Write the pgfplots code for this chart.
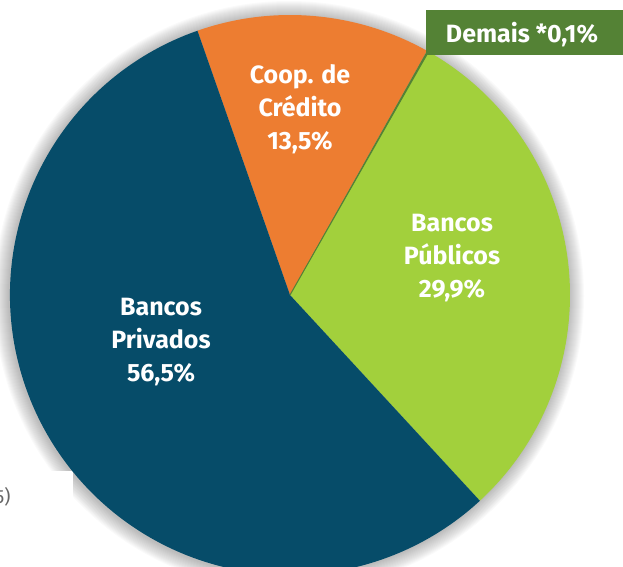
\documentclass[border=0pt]{standalone}
\usepackage{pgfplots}
\pgfplotsset{compat=1.18}
\usepackage{pgfplotstable}
\usepackage{fontspec}
\setmainfont{Fira Sans}
\definecolor{colB}{HTML}{064C69}
\definecolor{colO}{HTML}{ED7D31}
\definecolor{colG}{HTML}{A2D03C}
\definecolor{colD}{HTML}{548235}
\pgfplotstableread{
seg value
publicos 29.9
demais 0.1
coop 13.5
privados 56.5
}\piedata
\pgfplotstablegetelem{0}{value}\of\piedata \let\vG\pgfplotsretval
\pgfplotstablegetelem{1}{value}\of\piedata \let\vD\pgfplotsretval
\pgfplotstablegetelem{2}{value}\of\piedata \let\vO\pgfplotsretval
\pgfplotstablegetelem{3}{value}\of\piedata \let\vB\pgfplotsretval
\pgfmathsetmacro\aA{-47.3}
\pgfmathsetmacro\aB{\aA+3.6*\vG}
\pgfmathsetmacro\aC{\aB+3.6*\vD}
\pgfmathsetmacro\aD{\aC+3.6*\vO}
\pgfmathsetmacro\aE{\aD+3.6*\vB}
\begin{document}
\begin{tikzpicture}
\useasboundingbox (0,0) rectangle (623pt,566pt);
\clip (0,0) rectangle (623pt,566pt);
\begin{axis}[at={(0,0)}, anchor=south west, scale only axis, width=623pt, height=566pt,
  xmin=0, xmax=623, ymin=0, ymax=566, hide axis, clip=false]
% soft shadow
\pgfplotsinvokeforeach{281,282,...,295}{
  \fill[black, opacity=0.02] (axis cs:289,270) circle[radius=#1pt];
}
\fill[white] (axis cs:0,0) rectangle (axis cs:73,95);
\node[anchor=east, text=black!60, font=\fontsize{19}{22}\selectfont] at (axis cs:14,69) {(2025)};
% wedges
\fill[colG] (axis cs:290,271) -- ++(\aA:280pt) arc[start angle=\aA, end angle=\aB, radius=280pt] -- cycle;
\fill[colO] (axis cs:290,271) -- ++(\aC:280pt) arc[start angle=\aC, end angle=\aD, radius=280pt] -- cycle;
\fill[colB] (axis cs:290,271) -- ++(\aD:280pt) arc[start angle=\aD, end angle=\aE, radius=280pt] -- cycle;
\fill[colD] (axis cs:290,271) -- ++(\aB:280pt) arc[start angle=\aB, end angle=\aC, radius=280pt] -- cycle;
\draw[colD, line width=1pt] (axis cs:290,271) -- ++(\aB:280pt);
% labels
\node[text=white, font=\bfseries\fontsize{25}{33}\selectfont, align=center] at (axis cs:300,457) {Coop. de\\Crédito\\13,5\%};
\node[text=white, font=\bfseries\fontsize{25}{33}\selectfont, align=center] at (axis cs:452,308) {Bancos\\Públicos\\29,9\%};
\node[text=white, font=\bfseries\fontsize{25}{33}\selectfont, align=center] at (axis cs:161,224) {Bancos\\Privados\\56,5\%};
% demais box
\fill[colD] (axis cs:426,511) rectangle (axis cs:630,556);
\node[text=white, font=\bfseries\fontsize{25}{30}\selectfont] at (axis cs:522,531) {Demais *0,1\%};
\end{axis}
\end{tikzpicture}
\end{document}
